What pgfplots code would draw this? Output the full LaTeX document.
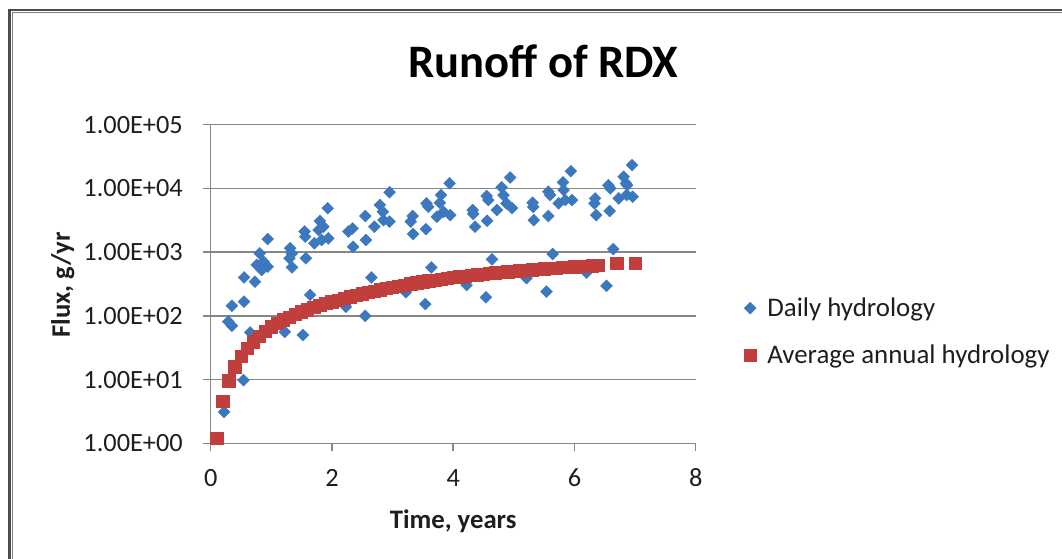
\documentclass[border=0pt]{standalone}
\usepackage{fontspec}
\setmainfont{Carlito}
\usepackage{pgfplots}
\pgfplotsset{compat=1.18}

\definecolor{dailyblue}{RGB}{60,120,190}
\definecolor{annualred}{RGB}{192,62,60}
\definecolor{gridgray}{RGB}{134,134,134}
\definecolor{txt}{RGB}{30,30,30}

% square standing on a corner (Excel style diamond)
\pgfdeclareplotmark{rdiamond}{%
  \pgfpathmoveto{\pgfqpoint{0pt}{\pgfplotmarksize}}%
  \pgfpathlineto{\pgfqpoint{\pgfplotmarksize}{0pt}}%
  \pgfpathlineto{\pgfqpoint{0pt}{-\pgfplotmarksize}}%
  \pgfpathlineto{\pgfqpoint{-\pgfplotmarksize}{0pt}}%
  \pgfpathclose
  \pgfusepathqfillstroke}

\begin{document}
\begin{tikzpicture}
\begin{axis}[
  at={(0,0)}, anchor=south west,
  scale only axis, width=9.7cm, height=6.374cm,
  ymode=log,
  xmin=0, xmax=8, ymin=1, ymax=100000,
  xtick={0,2,4,6,8}, xticklabels={0,2,4,6,8},
  ytick={1,10,100,1000,10000,100000},
  yticklabels={1.00E+00,1.00E+01,1.00E+02,1.00E+03,1.00E+04,1.00E+05},
  yminorticks=false,
  axis x line*=bottom, axis y line*=left,
  axis line style={draw=gridgray, line width=0.9pt, -},
  tick style={draw=gridgray, line width=0.9pt},
  tick align=outside, major tick length=0.16cm,
  ymajorgrids, grid style={gridgray, line width=0.9pt},
  tick label style={font=\fontsize{15}{18}\selectfont, text=txt},
  yticklabel style={inner xsep=0pt, xshift=-0.39cm},
  xticklabel style={anchor=base, yshift=-0.71cm},
  title={Runoff of RDX},
  title style={at={(axis description cs:0.686,1)}, anchor=base,
               yshift=0.726cm, font=\fontsize{26.5}{30}\selectfont\bfseries},
  xlabel={Time, years},
  ylabel={Flux, g/yr},
  label style={font=\fontsize{15.2}{18}\selectfont\bfseries, text=txt},
  xlabel style={at={(axis description cs:0.5,-0.244)}, anchor=center},
  ylabel style={at={(axis description cs:-0.305,0.497)}, anchor=center},
  clip=false,
  legend style={draw=none, fill=none, at={(axis description cs:1.099,0.35)},
                anchor=west, font=\fontsize{15.3}{18}\selectfont, text=txt,
                row sep=0.52cm, inner sep=0pt, nodes={inner sep=0pt},
                /tikz/every odd column/.append style={column sep=0.22cm}},
  legend cell align=left,
  legend image code/.code={
    \path[draw=none, fill=none] (0cm,-0.1cm) rectangle (0.2cm,0.1cm);
    \draw[#1] plot coordinates {(0.1cm,0cm)};},
]
\addplot[only marks, mark=rdiamond, mark size=3.4pt,
         mark options={draw=dailyblue, fill=dailyblue, line width=0.2pt}]
  coordinates {
  (0.22,3.1)(0.29,81)(0.35,70)(0.35,144)(0.54,9.8)(0.55,167)(0.55,400)
  (0.65,55)(0.73,343)(0.76,630)(0.81,955)(0.84,525)(0.87,708)(0.94,590)
  (0.94,1600)(1.22,56)(1.31,1150)(1.34,950)(1.30,800)(1.34,575)
  (1.52,50)(1.57,800)(1.64,213)(1.55,2100)(1.56,1740)(1.71,1380)
  (1.80,3080)(1.78,2220)(1.86,2500)(1.83,1550)(1.94,1640)(1.93,4880)
  (2.27,2100)(2.34,2350)(2.35,1210)(2.23,139)(2.55,3680)(2.56,1550)
  (2.55,100)(2.65,400)(2.70,2500)(2.79,5500)(2.84,4300)(2.85,3170)
  (2.95,3000)(2.95,8700)(3.22,234)(3.33,3680)(3.30,3000)(3.34,1920)
  (3.55,2290)(3.54,153)(3.56,5820)(3.59,5130)(3.64,575)(3.73,3590)
  (3.80,7850)(3.78,5960)(3.84,4270)(3.94,12000)(3.95,3800)(4.22,304)
  (4.32,4570)(4.33,3970)(4.36,2500)(4.54,195)(4.55,7580)(4.58,6540)
  (4.56,3100)(4.64,770)(4.72,4570)(4.80,10400)(4.83,7850)(4.88,5820)
  (4.94,14800)(4.97,4880)(5.21,390)(5.31,5960)(5.32,5130)(5.33,3170)
  (5.54,240)(5.64,930)(5.57,3680)(5.57,8860)(5.60,7850)(5.74,5820)
  (5.81,12400)(5.82,9400)(5.85,6540)(5.96,6540)(5.94,18600)(6.20,475)
  (6.34,6950)(6.33,5820)(6.36,3800)(6.53,295)(6.58,4410)(6.56,11200)
  (6.59,10000)(6.64,1110)(6.73,6950)(6.81,15200)(6.85,12000)(6.87,11200)
  (6.86,7850)(6.96,7400)(6.95,23200)};
\addlegendentry{Daily hydrology}

\addplot[only marks, mark=square*, mark size=3.5pt,
         mark options={draw=annualred, fill=annualred}]
  coordinates {
  (0.1,1.2)(0.2,4.5)(0.3,9.5)(0.4,15.8)(0.5,23.4)(0.6,31)(0.7,39)(0.8,48)
  (0.9,57)(1.0,67)(1.1,76)(1.2,86)(1.3,95)(1.4,105)(1.5,115)(1.6,124)
  (1.7,135)(1.8,145)(1.9,156)(2.0,166)(2.1,177)(2.2,188)(2.3,199)(2.4,210)
  (2.5,222)(2.6,233)(2.7,244)(2.8,256)(2.9,268)(3.0,280)(3.1,292)(3.2,304)
  (3.3,316)(3.4,328)(3.5,343)(3.6,353)(3.7,364)(3.8,375)(3.9,386)(4.0,397)
  (4.1,408)(4.2,419)(4.3,430)(4.4,441)(4.5,452)(4.6,463)(4.7,474)(4.8,483)
  (4.9,492)(5.0,501)(5.1,510)(5.2,518)(5.3,526)(5.4,535)(5.5,543)(5.6,552)
  (5.7,561)(5.8,569)(5.9,578)(6.0,586)(6.1,594)(6.2,603)(6.3,611)(6.4,622)
  (6.7,660)(7.0,665)};
\addlegendentry{Average annual hydrology}
\end{axis}

% chart area frame (left and top edges)
\draw[line width=1.4pt, gray!60!black] (-4.024cm,-2.5cm) -- (-4.024cm,8.666cm) -- (17.2cm,8.666cm);
\draw[line width=0.5pt, gray] (-3.974cm,-2.5cm) -- (-3.974cm,8.616cm) -- (17.2cm,8.616cm);

\pgfresetboundingbox
\useasboundingbox (-4.214cm,-2.294cm) rectangle (17.026cm,8.866cm);
\end{tikzpicture}
\end{document}
